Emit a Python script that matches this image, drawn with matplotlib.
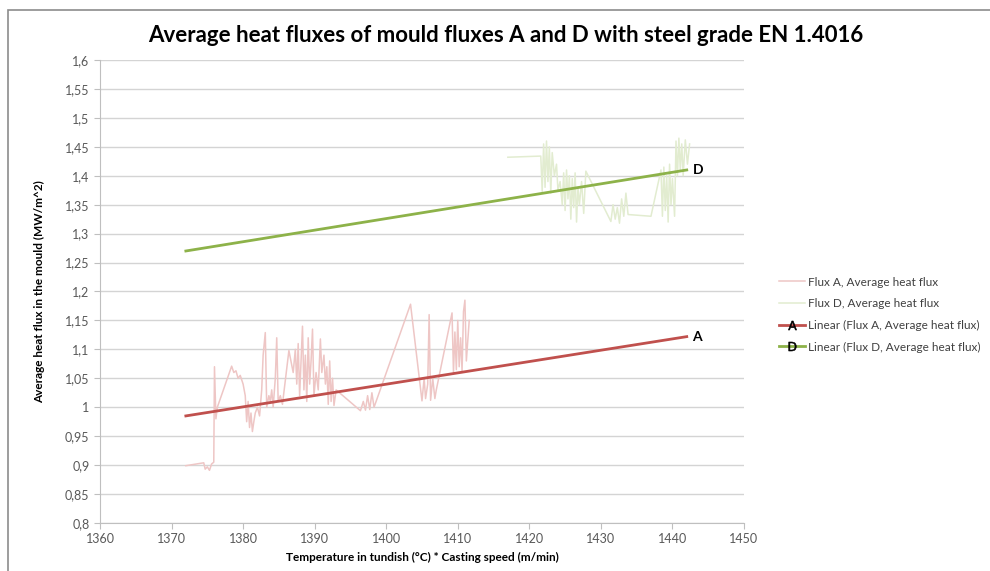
import matplotlib.pyplot as plt
from matplotlib.patches import Rectangle
from matplotlib.lines import Line2D
from matplotlib.ticker import FuncFormatter, MultipleLocator

# Flux A, average heat flux
fluxA_x = [1372.0, 1373.5, 1374.5, 1374.7, 1375.0, 1375.3, 1375.6, 1375.9, 1376.0, 1376.2,
           1376.4, 1378.4, 1378.7, 1379.0, 1379.3, 1379.6, 1380.0, 1380.3, 1380.5, 1380.7,
           1380.9, 1381.1, 1381.3, 1381.5, 1381.7, 1382.0, 1382.3, 1382.6, 1382.8, 1383.1,
           1383.3, 1383.6, 1383.8, 1384.0, 1384.2, 1384.5, 1384.7, 1384.9, 1385.2, 1385.5,
           1386.4, 1387.0, 1387.3, 1387.5, 1387.7, 1387.9, 1388.1, 1388.3, 1388.5, 1388.7,
           1388.9, 1389.1, 1389.3, 1389.5, 1389.7, 1389.9, 1390.2, 1390.5, 1390.8, 1391.0,
           1391.3, 1391.5, 1391.7, 1391.9, 1392.1, 1392.3, 1392.5, 1392.7, 1393.0, 1396.4,
           1396.8, 1397.1, 1397.4, 1397.7, 1398.0, 1398.3, 1403.4, 1405.0, 1405.3, 1405.5,
           1405.8, 1406.0, 1406.2, 1406.5, 1406.8, 1407.0, 1409.2, 1409.4, 1409.6, 1409.8,
           1410.0, 1410.2, 1410.4, 1410.6, 1410.8, 1411.0, 1411.2, 1411.6]
fluxA_y = [0.899, 0.902, 0.904, 0.893, 0.897, 0.891, 0.902, 0.905, 1.070, 0.980,
           1.000, 1.071, 1.060, 1.063, 1.050, 1.055, 1.040, 1.020, 0.975, 1.010,
           0.965, 0.990, 0.958, 0.975, 0.990, 1.000, 0.985, 1.030, 1.090, 1.129,
           1.000, 1.020, 1.010, 1.030, 1.000, 1.050, 1.120, 1.010, 1.020, 1.005,
           1.098, 1.060, 1.100, 1.040, 1.110, 1.020, 1.080, 1.140, 1.030, 1.090,
           1.010, 1.120, 1.040, 1.080, 1.135, 1.020, 1.060, 1.030, 1.118, 1.060,
           1.090, 1.040, 1.070, 1.005, 1.080, 1.010, 1.050, 1.003, 1.030, 0.994,
           1.010, 0.995, 1.020, 0.996, 1.025, 1.000, 1.178, 1.011, 1.050, 1.015,
           1.040, 1.160, 1.012, 1.050, 1.015, 1.030, 1.163, 1.060, 1.130, 1.065,
           1.150, 1.070, 1.120, 1.063, 1.165, 1.185, 1.080, 1.150]

# Flux D, average heat flux
fluxD_x = [1417.0, 1421.6, 1421.8, 1422.0, 1422.2, 1422.4, 1422.6, 1422.8, 1423.0, 1423.2,
           1423.5, 1423.8, 1424.0, 1424.3, 1424.6, 1424.8, 1425.0, 1425.2, 1425.4, 1425.6,
           1425.8, 1426.0, 1426.2, 1426.4, 1426.6, 1426.8, 1427.0, 1427.3, 1427.6, 1427.9,
           1431.4, 1431.7, 1432.0, 1432.3, 1432.6, 1432.9, 1433.2, 1433.5, 1433.8, 1437.0,
           1438.4, 1438.6, 1438.8, 1439.0, 1439.2, 1439.4, 1439.6, 1439.8, 1440.0, 1440.3,
           1440.5, 1440.7, 1440.9, 1441.1, 1441.3, 1441.5, 1441.8, 1442.1, 1442.4]
fluxD_y = [1.432, 1.434, 1.373, 1.455, 1.380, 1.460, 1.390, 1.450, 1.370, 1.440,
           1.400, 1.420, 1.375, 1.390, 1.350, 1.405, 1.340, 1.410, 1.360, 1.400,
           1.325, 1.395, 1.345, 1.405, 1.320, 1.380, 1.350, 1.390, 1.335, 1.408,
           1.321, 1.350, 1.325, 1.345, 1.318, 1.360, 1.330, 1.370, 1.333, 1.330,
           1.410, 1.330, 1.415, 1.340, 1.400, 1.320, 1.420, 1.350, 1.395, 1.330,
           1.460, 1.400, 1.465, 1.410, 1.455, 1.400, 1.462, 1.420, 1.455]

# linear trend lines (end points)
trend_x = [1372, 1442]
trendA_y = [0.985, 1.122]
trendD_y = [1.270, 1.410]

plt.rcParams['font.family'] = ['Lato', 'DejaVu Sans']

fig = plt.figure(figsize=(9.9, 5.71), dpi=100)
ax = fig.add_axes([0.101, 0.0841, 0.6505, 0.8108])

# border round the chart
fig.patches.append(Rectangle((8 / 990, -0.1), 1.2, 1.1 - 10 / 571,
                             transform=fig.transFigure, fill=False,
                             edgecolor='#8c8c8c', lw=1.2, zorder=0))

ax.plot(fluxA_x, fluxA_y, color='#eec6c5', lw=1.1, label='Flux A, Average heat flux')
ax.plot(fluxD_x, fluxD_y, color='#e2ecd0', lw=1.1, label='Flux D, Average heat flux')
ax.plot(trend_x, trendA_y, color='#c0504d', lw=2, label='Linear (Flux A, Average heat flux)')
ax.plot(trend_x, trendD_y, color='#8db249', lw=2, label='Linear (Flux D, Average heat flux)')

ax.text(trend_x[1] + 0.8, trendA_y[1], 'A', fontsize=10, fontweight='bold', va='center')
ax.text(trend_x[1] + 0.8, trendD_y[1], 'D', fontsize=10, fontweight='bold', va='center')

ax.set_xlim(1360, 1450)
ax.set_ylim(0.8, 1.6)
ax.xaxis.set_major_locator(MultipleLocator(10))
ax.yaxis.set_major_locator(MultipleLocator(0.05))
ax.yaxis.set_major_formatter(FuncFormatter(lambda v, p: f"{round(v, 2):g}".replace('.', ',')))
ax.grid(axis='y', color='#d4d4d4', lw=1)
ax.set_axisbelow(True)
for s in ['top', 'right']:
    ax.spines[s].set_visible(False)
for s in ['left', 'bottom']:
    ax.spines[s].set_color('#bfbfbf')
ax.tick_params(colors='#bfbfbf', labelcolor='#595959', labelsize=9, length=4)

ax.set_title('Average heat fluxes of mould fluxes A and D with steel grade EN 1.4016',
             fontsize=16, fontweight='bold', pad=13, x=0.63)
ax.set_xlabel('Temperature in tundish (°C) * Casting speed (m/min)', fontsize=8.5,
              fontweight='bold', labelpad=5)
ax.set_ylabel('Average heat flux in the mould (MW/m^2)', fontsize=8.5, fontweight='bold',
              labelpad=14)

handles, labels = ax.get_legend_handles_labels()
handles[2] = Line2D([], [], color='#c0504d', lw=2, marker=r'$\mathrm{A}$',
                    markersize=6.5, markeredgewidth=0.4,
                    markeredgecolor='black', markerfacecolor='black')
handles[3] = Line2D([], [], color='#8db249', lw=2, marker=r'$\mathrm{D}$',
                    markersize=6.5, markeredgewidth=0.4,
                    markeredgecolor='black', markerfacecolor='black')
fig.legend(handles, labels, loc='upper left', bbox_to_anchor=(768 / 990, 1 - 266 / 571),
           frameon=False, fontsize=8.5, handlelength=2.2, labelspacing=0.9,
           handletextpad=0.3, labelcolor='#404040')

fig.savefig('out.png', dpi=100)
